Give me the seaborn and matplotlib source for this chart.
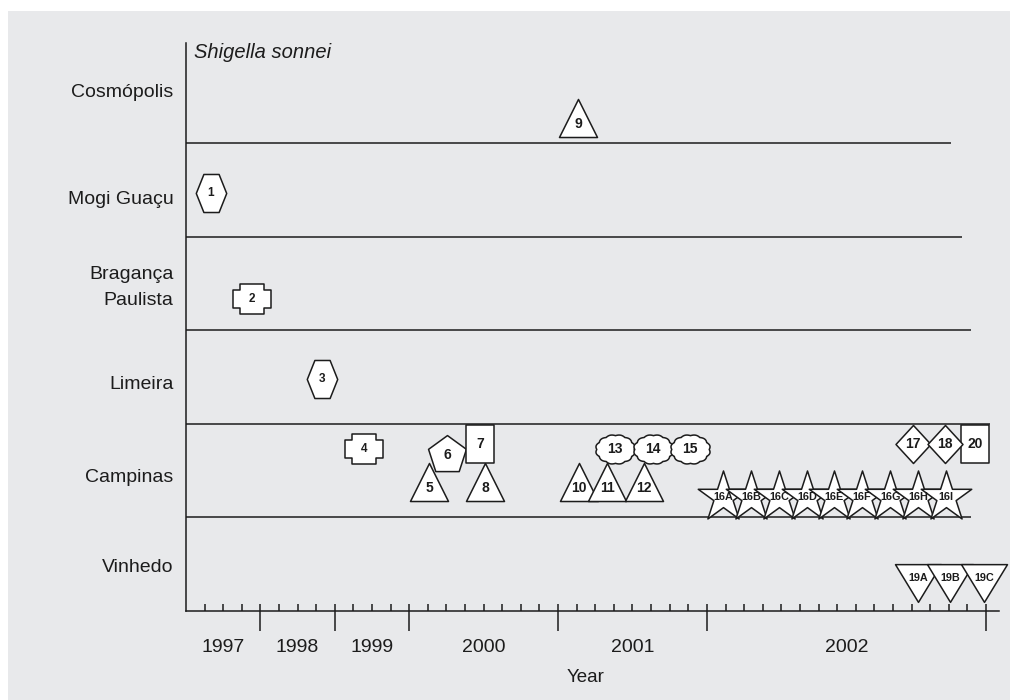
import numpy as np
import pandas as pd
import matplotlib
matplotlib.use("Agg")
import matplotlib.pyplot as plt
from matplotlib.path import Path
from matplotlib.markers import MarkerStyle
from matplotlib.patches import Rectangle
from matplotlib.ticker import FixedLocator
import seaborn as sns

# ------------------------------------------------------------------ data
cities = ["Vinhedo", "Campinas", "Limeira", "Bragança\nPaulista", "Mogi Guaçu", "Cosmópolis"]
city_label_y = [0.49, 1.45, 2.44, 3.53, 4.42, 5.56]
row_lines_y = [1, 2, 3, 4, 5]
row_lines_end = [42.2, 43.2, 42.2, 41.7, 41.1]

years = ["1997", "1998", "1999", "2000", "2001", "2002"]
year_bounds = [0, 4, 8, 12, 20, 28, 43]

isolates = ["1", "2", "3", "4", "5", "6", "7", "8", "9", "10", "11", "12", "13", "14", "15",
            "16A", "16B", "16C", "16D", "16E", "16F", "16G", "16H", "16I",
            "17", "18", "20", "19A", "19B", "19C"]
iso_x = [1.34, 3.55, 7.31, 9.57, 13.06, 14.03, 15.81, 16.08, 21.08, 21.13, 22.63, 24.62,
         23.06, 25.11, 27.10,
         28.87, 30.38, 31.88, 33.39, 34.84, 36.34, 37.85, 39.35, 40.86,
         39.09, 40.81, 42.42, 39.35, 41.08, 42.90]
iso_y = [4.47, 3.33, 2.48, 1.73, 1.38, 1.67, 1.79, 1.38, 5.27, 1.38, 1.38, 1.38,
         1.73, 1.73, 1.73,
         1.22, 1.22, 1.22, 1.22, 1.22, 1.22, 1.22, 1.22, 1.22,
         1.79, 1.79, 1.79, 0.30, 0.30, 0.30]
iso_shape = ["hexagon", "cross", "hexagon", "cross", "triangle", "pentagon", "square",
             "triangle", "triangle", "triangle", "triangle", "triangle",
             "cloud", "cloud", "cloud",
             "star", "star", "star", "star", "star", "star", "star", "star", "star",
             "diamond", "diamond", "square", "inv_triangle", "inv_triangle", "inv_triangle"]

df = pd.DataFrame({"isolate": isolates, "x": iso_x, "y": iso_y, "shape": iso_shape})

# ------------------------------------------------------------------ marker shapes
def closed(verts):
    verts = list(verts) + [verts[0]]
    return Path(verts, closed=True)

hexagon = closed([(-0.40, 0), (-0.20, 0.5), (0.20, 0.5), (0.40, 0), (0.20, -0.5), (-0.20, -0.5)])
cross = closed([(-0.32, 0.39), (0.32, 0.39), (0.32, 0.22), (0.5, 0.22), (0.5, -0.22), (0.32, -0.22),
                (0.32, -0.39), (-0.32, -0.39), (-0.32, -0.22), (-0.5, -0.22), (-0.5, 0.22),
                (-0.32, 0.22)])
square = closed([(-0.38, -0.5), (0.38, -0.5), (0.38, 0.5), (-0.38, 0.5)])
diamond = closed([(0, 0.5), (0.46, 0), (0, -0.5), (-0.46, 0)])
inv_tri = closed([(-0.5, 0.41), (0.5, 0.41), (0, -0.41)])
t = np.linspace(0, 2 * np.pi, 240, endpoint=False)
rr = 1 + 0.07 * np.abs(np.sin(6 * t))
cloud = closed(list(zip(0.5 * rr * np.cos(t) / 1.07, 0.37 * rr * np.sin(t) / 1.07)))

shape_style = {
    "hexagon": (MarkerStyle(hexagon), 750),
    "cross": (MarkerStyle(cross), 784),
    "triangle": (MarkerStyle("^"), 750),
    "pentagon": (MarkerStyle("p"), 822),
    "square": (MarkerStyle(square), 750),
    "cloud": (MarkerStyle(cloud), 790),
    "star": (MarkerStyle("*"), 1459),
    "diamond": (MarkerStyle(diamond), 750),
    "inv_triangle": (MarkerStyle(inv_tri), 1097),
}
label_dy = {"triangle": -4.5, "inv_triangle": 3.5}

# ------------------------------------------------------------------ figure
sns.set_style("ticks")
plt.rcParams["font.family"] = ["Liberation Sans", "DejaVu Sans"]
ink = "#1c1c1c"
bg = "#e8e9eb"

fig = plt.figure(figsize=(10.1, 7.0), dpi=100)
fig.patch.set_facecolor("white")
fig.add_artist(Rectangle((8 / 1010, 0), 1 - 8 / 1010, 1 - 11 / 700, transform=fig.transFigure,
                         facecolor=bg, edgecolor="none", zorder=-5))
ax = fig.add_axes([186 / 1010, 89 / 700, 813 / 1010, 568 / 700])
ax.set_facecolor("none")
ax.set_xlim(0, 43.7)
ax.set_ylim(0, 6.07)

# row separators
ax.hlines(row_lines_y, 0, row_lines_end, color=ink, lw=1.1, zorder=2)

for shp in ["hexagon", "cross", "triangle", "pentagon", "square", "cloud", "star", "diamond",
            "inv_triangle"]:
    sub = df[df["shape"] == shp]
    m, s = shape_style[shp]
    sns.scatterplot(data=sub, x="x", y="y", marker=m, s=s, color="white", edgecolor=ink,
                    linewidth=1.1, ax=ax, zorder=3, legend=False, clip_on=False)

for iso, x, y, shp in zip(isolates, iso_x, iso_y, iso_shape):
    if iso in ("1", "2", "3", "4"):
        fs = 8.5
    elif shp in ("star", "inv_triangle"):
        fs = 7.8
    else:
        fs = 10
    ax.annotate(iso, (x, y), xytext=(0, label_dy.get(shp, 0)), textcoords="offset points",
                ha="center", va="center", fontsize=fs, fontweight="bold", color=ink, zorder=5,
                annotation_clip=False)

# spines and ticks
sns.despine(ax=ax, top=True, right=True)
for sp in ("left", "bottom"):
    ax.spines[sp].set_linewidth(1.1)
    ax.spines[sp].set_color(ink)

ax.xaxis.set_major_locator(FixedLocator(year_bounds[1:]))
ax.xaxis.set_minor_locator(FixedLocator(list(range(1, 44))))
ax.xaxis.remove_overlapping_locs = False
ax.tick_params(axis="x", which="major", direction="out", length=14.4, width=1.1, color=ink,
               labelbottom=False)
ax.tick_params(axis="x", which="minor", direction="in", length=5, width=1.1, color=ink)

ax.set_yticks(city_label_y)
ax.set_yticklabels(cities, fontsize=14, color=ink, linespacing=1.75)
ax.tick_params(axis="y", which="both", length=0, pad=9)
ax.set_xlabel("")
ax.set_ylabel("")

for i, yr in enumerate(years):
    xc = (year_bounds[i] + year_bounds[i + 1]) / 2
    ax.text(xc, -37 / 568, yr, transform=ax.get_xaxis_transform(), ha="center", va="center",
            fontsize=14, color=ink)
ax.text(21.45, -66 / 568, "Year", transform=ax.get_xaxis_transform(), ha="center", va="center",
        fontsize=13.5, color=ink)
ax.text(0.45, 5.97, "Shigella sonnei", ha="left", va="center", fontsize=14.5, style="italic",
        color=ink)

fig.savefig("out.png", dpi=100)
